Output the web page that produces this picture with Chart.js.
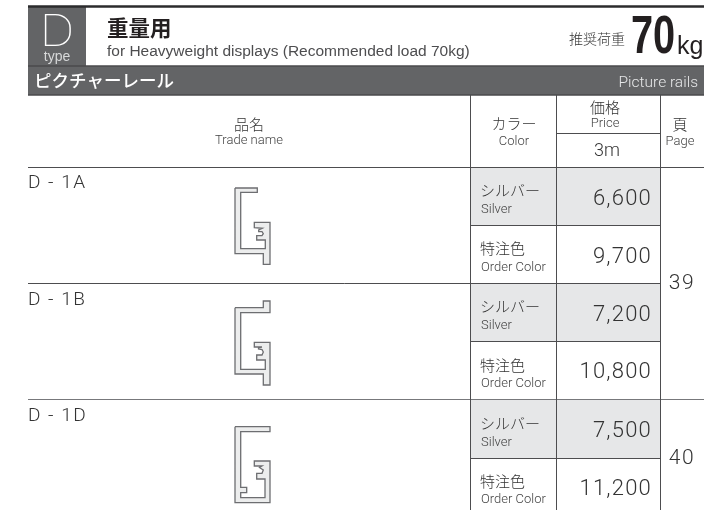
<!DOCTYPE html>
<html>
<head>
<meta charset="utf-8">
<style>html,body{margin:0;padding:0;background:#fff}canvas{display:block}</style>
<script src="https://cdn.jsdelivr.net/npm/chart.js@4/dist/chart.umd.min.js"></script>
</head>
<body>
<canvas id="myChart" width="728" height="510"></canvas>
<script>
// table contents
const tradeNames = ['D - 1A', 'D - 1B', 'D - 1D'];
const colorJa = ['シルバー', '特注色', 'シルバー', '特注色', 'シルバー', '特注色'];
const colorEn = ['Silver', 'Order Color', 'Silver', 'Order Color', 'Silver', 'Order Color'];
const prices = ['6,600', '9,700', '7,200', '10,800', '7,500', '11,200'];
const pages = ['39', '40'];

// rail cross sections in axis units
const profile1A = [[235,188],[257.3,188],[257.3,192.3],[240.7,192.3],[240.7,248.7],[265.3,248.7],[265.3,240],[256.7,240],[256.7,235.7],[262,235.7],[263.3,233.7],[262,231.7],[258.7,231.7],[258.7,230],[262.3,228.3],[254.3,227.7],[254.3,222.3],[270,222.3],[270,264.3],[263.3,264.3],[263.3,253.7],[235,253.7],[235,188]];
const profile1B = [[235,307.7],[263.3,307.7],[263.3,301],[270,301],[270,312.7],[240.7,312.7],[240.7,369.3],[265.3,369.3],[265.3,360],[256.7,360],[256.7,355],[262,355],[263.3,352],[262,349.5],[258.5,349],[258.5,347.5],[262,347],[254.3,347],[254.3,342.3],[270,342.3],[270,385],[263.3,385],[263.3,374],[235,374],[235,307.7]];
const profile1D = [[235,426.7],[270,426.7],[270,431.7],[240.7,431.7],[240.7,487.3],[246.7,487.3],[246.7,492.7],[240.7,492.7],[240.7,497.7],[265,497.7],[265,479],[256.7,479],[256.7,473.3],[262,473.3],[263.3,470],[259.5,467.5],[262,466],[254.3,466],[254.3,461],[270,461],[270,502.7],[235,502.7],[235,426.7]];

const rowEdges = [167.5, 225.5, 283.5, 341.5, 399.5, 458.5];
const colEdges = [470.5, 556.5, 660.5];
const left = 28, right = 704, bottom = 510;

const ink = '#4d4d4f', band = '#636466', cell = '#e6e7e8';
const JA = '"Noto Sans CJK JP"', EN = '"Liberation Sans"';

function toPts(a){ return a.map(p => ({x:p[0], y:p[1]})); }
function rect(x0,x1,y0,y1,color){
  return {data:[{x:x0,y:y0},{x:x1,y:y0},{x:x1,y:y1},{x:x0,y:y1},{x:x0,y:y0}],
    showLine:true, fill:'shape', backgroundColor:color, borderWidth:0, borderColor:color, pointRadius:0, clip:false};
}
function rule(x0,y0,x1,y1,color,w){
  return {data:[{x:x0,y:y0},{x:x1,y:y1}], showLine:true, fill:false, borderColor:color, borderWidth:w||1, pointRadius:0, clip:false};
}
function shape(a){
  return {data:toPts(a), showLine:true, fill:'shape', backgroundColor:'#eceded', borderColor:'#6d6e71', borderWidth:1.3, pointRadius:0, clip:false};
}

// later entries get painted first, so rules go up front and fills last
const sets = [];
sets.push(rule(left,6.5,right,6.5,'#2b2b2d',2.5));
sets.push(rule(left,66,right,66,'#4a4a4c',1.5));
sets.push(rule(left,95,right,95,'#4a4a4c',1.5));
colEdges.forEach(x => sets.push(rule(x,95,x,bottom,ink,1)));
sets.push(rule(colEdges[1],133.5,colEdges[2],133.5,ink,1));
sets.push(rule(left,rowEdges[0],right,rowEdges[0],ink,1));
sets.push(rule(colEdges[0],rowEdges[1],colEdges[2],rowEdges[1],ink,1));
sets.push(rule(left,rowEdges[2],colEdges[2],rowEdges[2],ink,1));
sets.push(rule(colEdges[0],rowEdges[3],colEdges[2],rowEdges[3],ink,1));
sets.push(rule(left,rowEdges[4],right,rowEdges[4],'#77787b',1));
sets.push(rule(colEdges[0],rowEdges[5],colEdges[2],rowEdges[5],ink,1));
[profile1A, profile1B, profile1D].forEach(p => sets.push(shape(p)));
[0,2,4].forEach(i => sets.push(rect(colEdges[0],colEdges[2],rowEdges[i],rowEdges[i+1],cell)));
sets.push(rect(left,right,66,95,band));
sets.push(rect(left,86,7,66,band));

const colorJaY = [190, 248, 306, 365, 423, 481];
const colorEnY = [210, 268, 326, 384, 443, 500];
const priceY = [199, 257, 315, 372, 431, 489];
const nameY = [183, 300, 416];
const pageY = [284, 459];

const textPlugin = {
  id:'tableText',
  afterDatasetsDraw(chart){
    const c = chart.ctx, sx = chart.scales.x, sy = chart.scales.y;
    function t(s,x,y,font,color,align,spacing,stretch){
      c.save();
      c.font = font; c.fillStyle = color; c.textAlign = align||'left'; c.textBaseline = 'middle';
      c.letterSpacing = spacing||'0px';
      c.translate(sx.getPixelForValue(x), sy.getPixelForValue(y));
      c.scale(stretch||1, 1);
      c.fillText(s, 0, 0);
      c.restore();
    }
    t('D',57,35,'100 44px Roboto','#ffffff','center',null,1.2);
    t('type',57,57,'300 14px '+EN,'#d8d9da','center');
    t('重量用',107,28,'700 21.5px '+JA,'#231f20');
    t('for Heavyweight displays (Recommended load 70kg)',107,51.5,'15.5px '+EN,'#4d4d4f');
    t('推奨荷重',569,39,'300 14px '+JA,'#333');
    t('70',631,38,'700 53px '+EN,'#231f20','left',null,0.75);
    t('kg',677,47,'25px '+EN,'#231f20');
    t('ピクチャーレール',34,80,'500 17.5px '+JA,'#fff');
    t('Picture rails',698,83.5,'300 15.5px Roboto','#e6e7e8','right');
    t('品名',249,124,'300 15px '+JA,'#333','center');
    t('Trade name',249,141,'300 13px Roboto','#444','center');
    t('カラー',514,123,'300 15px '+JA,'#333','center');
    t('Color',514,141.5,'300 13px Roboto','#444','center');
    t('価格',605,107,'300 15px '+JA,'#333','center');
    t('Price',605,124,'300 13px Roboto','#444','center');
    t('3m',607,151,'300 18px Roboto','#333','center');
    t('頁',680,124,'300 15px '+JA,'#333','center');
    t('Page',680,141.5,'300 13px Roboto','#444','center');
    tradeNames.forEach((n,i) => t(n,28,nameY[i],'300 19px Roboto','#333','left','1.5px'));
    colorJa.forEach((n,i) => t(n,480,colorJaY[i],'300 15px '+JA,'#333'));
    colorEn.forEach((n,i) => t(n,481,colorEnY[i],'300 13px Roboto','#444'));
    prices.forEach((n,i) => t(n,652,priceY[i],'300 22px Roboto','#333','right','1.2px'));
    pages.forEach((n,i) => t(n,682,pageY[i],'300 21px Roboto','#333','center','1.5px'));
  }
};

new Chart(document.getElementById('myChart').getContext('2d'), {
  type:'scatter',
  data:{datasets:sets},
  options:{
    responsive:false, animation:false,
    layout:{padding:0},
    elements:{line:{tension:0}},
    plugins:{legend:{display:false}, tooltip:{enabled:false}},
    scales:{
      x:{type:'linear', min:0, max:728, display:false},
      y:{type:'linear', min:0, max:510, reverse:true, display:false}
    }
  },
  plugins:[textPlugin]
});
</script>
</body>
</html>
